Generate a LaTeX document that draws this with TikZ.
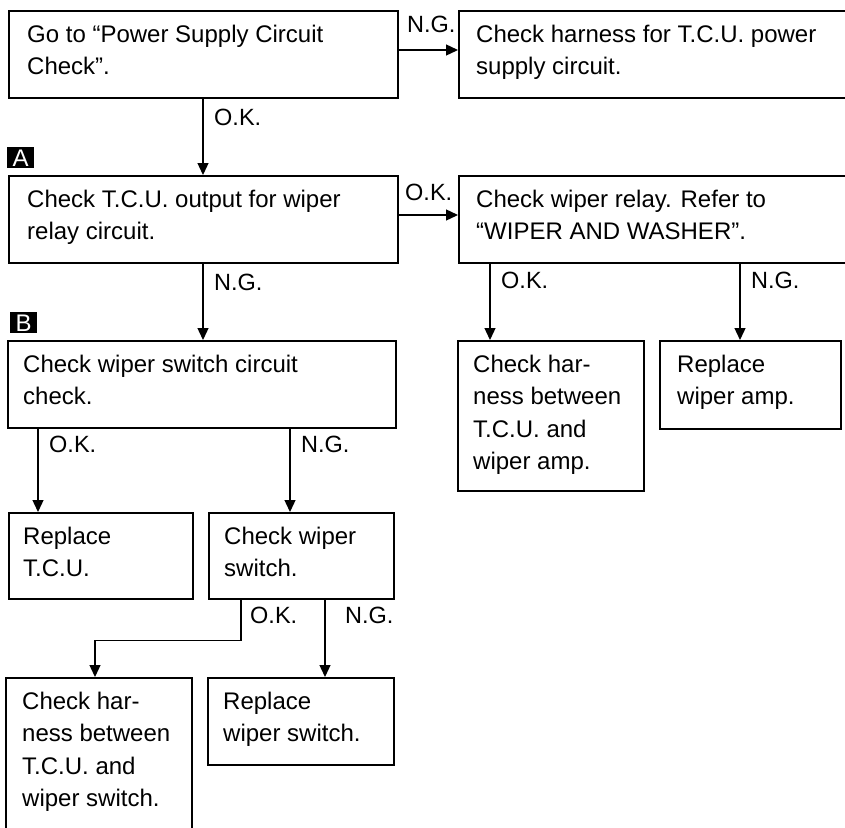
\documentclass[tikz,border=0pt]{standalone}
\usepackage{fontspec}
\setmainfont{Liberation Sans}
\usetikzlibrary{arrows.meta}
\tikzset{
  x=1pt, y=-1pt,
  box/.style={draw=black, line width=1.6pt, rectangle, inner sep=0pt, anchor=north west},
  txt/.style={anchor=north west, inner sep=0pt, align=left, font=\fontsize{24}{32.5}\selectfont},
  lbl/.style={anchor=base west, inner sep=0pt, font=\fontsize{23.5}{28}\selectfont},
  arr/.style={line width=1.3pt, -{Triangle[length=12pt,width=11pt]}},
  markbox/.style={fill=black, text=white, inner sep=0pt, minimum width=27pt, minimum height=21pt, text height=17pt, text depth=0pt, anchor=north west, font=\fontsize{24}{24}\selectfont}
}
\begin{document}
\begin{tikzpicture}
\clip (0,0) rectangle (845,827);
\fill[white] (0,0) rectangle (845,827);

\node[box, minimum width=389pt, minimum height=87pt] (b1) at (8,10) {};
\node[txt] (b1t) at (27,18) {\rule{0pt}{24pt}Go to ``Power Supply Circuit\\Check''.};

\node[box, minimum width=388pt, minimum height=87pt] (b2) at (458,10) {};
\node[txt] (b2t) at (476,18) {\rule{0pt}{24pt}Check harness for T.C.U. power\\supply circuit.};

\node[box, minimum width=389pt, minimum height=87pt] (b3) at (8,175) {};
\node[txt] (b3t) at (27,183) {\rule{0pt}{24pt}Check T.C.U. output for wiper\\relay circuit.};

\node[box, minimum width=388pt, minimum height=87pt] (b4) at (458,175) {};
\node[txt] (b4t) at (476,183) {\rule{0pt}{24pt}Check wiper relay. Refer to\\``WIPER AND WASHER''.};

\node[box, minimum width=186pt, minimum height=150pt] (b5) at (457,340) {};
\node[txt] (b5t) at (473,348) {\rule{0pt}{24pt}Check har-\\ness between\\T.C.U. and\\wiper amp.};

\node[box, minimum width=181pt, minimum height=88pt] (b6) at (659,340) {};
\node[txt] (b6t) at (677,348) {\rule{0pt}{24pt}Replace\\wiper amp.};

\node[box, minimum width=388pt, minimum height=87pt] (b7) at (7,340) {};
\node[txt] (b7t) at (23,348) {\rule{0pt}{24pt}Check wiper switch circuit\\check.};

\node[box, minimum width=184pt, minimum height=86pt] (b8) at (8,512) {};
\node[txt] (b8t) at (23,520) {\rule{0pt}{24pt}Replace\\T.C.U.};

\node[box, minimum width=185pt, minimum height=86pt] (b9) at (208,512) {};
\node[txt] (b9t) at (224,520) {\rule{0pt}{24pt}Check wiper\\switch.};

\node[box, minimum width=186pt, minimum height=170pt] (b10) at (5,677) {};
\node[txt] (b10t) at (22,685) {\rule{0pt}{24pt}Check har-\\ness between\\T.C.U. and\\wiper switch.};

\node[box, minimum width=186pt, minimum height=87pt] (b11) at (207,677) {};
\node[txt] (b11t) at (223,685) {\rule{0pt}{24pt}Replace\\wiper switch.};

% markers
\node[markbox] (mA) at (7,147) {A};
\node[markbox] (mB) at (10,312) {B};

% connectors
\draw[arr] ([yshift=-40pt]b1.north east) -- ([yshift=-40pt]b2.north west);
\draw[arr] ([xshift=195pt]b1.south west) -- ([xshift=195pt]b3.north west);
\draw[arr] ([yshift=-40pt]b3.north east) -- ([yshift=-40pt]b4.north west);
\draw[arr] ([xshift=195pt]b3.south west) -- ([xshift=196pt]b7.north west);
\draw[arr] ([xshift=32pt]b4.south west) -- ([xshift=33pt]b5.north west);
\draw[arr] ([xshift=282pt]b4.south west) -- ([xshift=81pt]b6.north west);
\draw[arr] ([xshift=31pt]b7.south west) -- ([xshift=30pt]b8.north west);
\draw[arr] ([xshift=283pt]b7.south west) -- ([xshift=82pt]b9.north west);
\draw[arr] ([xshift=33pt]b9.south west) -- ++(0pt,-41pt) -| ([xshift=90pt]b10.north west);
\draw[arr] ([xshift=117pt]b9.south west) -- ([xshift=118pt]b11.north west);

% labels
\node[lbl] (l1) at (407,32) {N.G.};
\node[lbl] (l2) at (214,125) {O.K.};
\node[lbl] (l3) at (405,200) {O.K.};
\node[lbl] (l4) at (214,290) {N.G.};
\node[lbl] (l5) at (501,288) {O.K.};
\node[lbl] (l6) at (751,288) {N.G.};
\node[lbl] (l7) at (49,452) {O.K.};
\node[lbl] (l8) at (301,452) {N.G.};
\node[lbl] (l9) at (250,623) {O.K.};
\node[lbl] (l10) at (345,623) {N.G.};
\end{tikzpicture}
\end{document}
